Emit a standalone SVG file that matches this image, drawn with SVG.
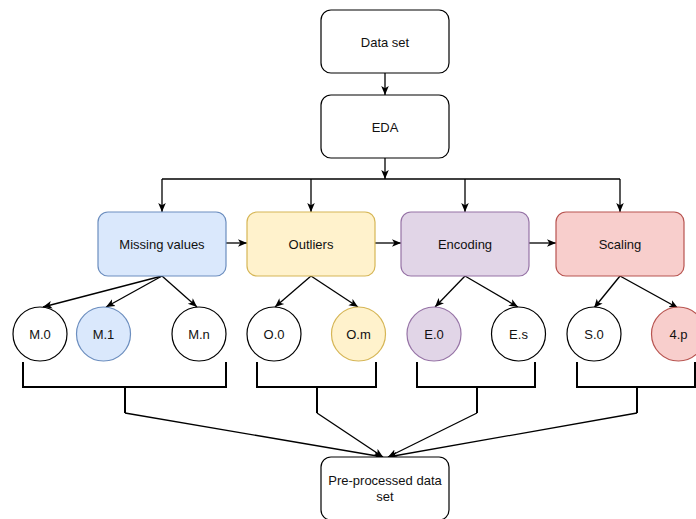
<svg xmlns="http://www.w3.org/2000/svg" width="696" height="519" viewBox="0 0 696 519">
  <defs>
    <marker id="arrow" markerUnits="userSpaceOnUse" markerWidth="9" markerHeight="9" viewBox="0 0 10 10" refX="10" refY="5" orient="auto">
      <path d="M0,0.8 L10,5 L0,9.2 L2.6,5 z" fill="#000"/>
    </marker>
    <style>
      .box { fill: #fff; stroke: #000; stroke-width: 1.2; }
      .blue { fill: #dae8fc; stroke: #6c8ebf; stroke-width: 1.2; }
      .yellow { fill: #fff2cc; stroke: #d6b656; stroke-width: 1.2; }
      .purple { fill: #e1d5e7; stroke: #9673a6; stroke-width: 1.2; }
      .red { fill: #f8cecc; stroke: #b85450; stroke-width: 1.2; }
      .lbl { font-family: "Liberation Sans", Arial, sans-serif; font-size: 13px; fill: #111; text-anchor: middle; dominant-baseline: central; }
      .edge { fill: none; stroke: #000; stroke-width: 1.3; marker-end: url(#arrow); }
      .bracket { fill: none; stroke: #000; stroke-width: 2; }
    </style>
  </defs>

  <!-- connectors -->
  <g id="connectors">
    <path class="edge" d="M385,73 V95"/>
    <path class="edge" d="M385,158 V179"/>
    <path fill="none" stroke="#000" stroke-width="1.3" d="M162,179 H620"/>
    <path class="edge" d="M162,179 V212"/>
    <path class="edge" d="M311,179 V212"/>
    <path class="edge" d="M465,179 V212"/>
    <path class="edge" d="M620,179 V212"/>

    <path class="edge" d="M226,243 H247"/>
    <path class="edge" d="M375,243 H401"/>
    <path class="edge" d="M529,243 H556"/>

    <path class="edge" d="M162,276 L43,307"/>
    <path class="edge" d="M162,276 L106,307"/>
    <path class="edge" d="M162,276 L197,307"/>
    <path class="edge" d="M311,276 L275,307"/>
    <path class="edge" d="M311,276 L358,307"/>
    <path class="edge" d="M465,276 L435,307"/>
    <path class="edge" d="M465,276 L518,307"/>
    <path class="edge" d="M620,276 L594,308"/>
    <path class="edge" d="M620,276 L678,308"/>

    <path class="bracket" d="M23,362 V387 H226 V362 M125,387 V413"/>
    <path class="bracket" d="M257,362 V387 H376 V362 M317,387 V413"/>
    <path class="bracket" d="M417,362 V387 H535 V362 M477,387 V413"/>
    <path class="bracket" d="M577,362 V387 H695 V362 M637,387 V413"/>

    <path class="edge" d="M125,413 L383,457"/>
    <path class="edge" d="M317,413 L383,457"/>
    <path class="edge" d="M477,413 L388,457"/>
    <path class="edge" d="M637,413 L388,457"/>
  </g>

  <g id="dataset">
    <rect class="box" x="321" y="10" width="128" height="63" rx="10"/>
    <text class="lbl" x="385" y="42">Data set</text>
  </g>
  <g id="eda">
    <rect class="box" x="321" y="95" width="128" height="63" rx="10"/>
    <text class="lbl" x="385" y="127">EDA</text>
  </g>

  <g id="missing">
    <rect class="blue" x="98" y="212" width="128" height="64" rx="10"/>
    <text class="lbl" x="162" y="244">Missing values</text>
  </g>
  <g id="outliers">
    <rect class="yellow" x="247" y="212" width="128" height="64" rx="10"/>
    <text class="lbl" x="311" y="244">Outliers</text>
  </g>
  <g id="encoding">
    <rect class="purple" x="401" y="212" width="128" height="64" rx="10"/>
    <text class="lbl" x="465" y="244">Encoding</text>
  </g>
  <g id="scaling">
    <rect class="red" x="556" y="212" width="128" height="64" rx="10"/>
    <text class="lbl" x="620" y="244">Scaling</text>
  </g>

  <g id="m0">
    <circle class="box" cx="40" cy="334" r="27"/>
    <text class="lbl" x="40" y="334">M.0</text>
  </g>
  <g id="m1">
    <circle class="blue" cx="103.5" cy="334" r="27"/>
    <text class="lbl" x="103.5" y="334">M.1</text>
  </g>
  <g id="mn">
    <circle class="box" cx="199" cy="334" r="27"/>
    <text class="lbl" x="199" y="334">M.n</text>
  </g>
  <g id="o0">
    <circle class="box" cx="274" cy="334" r="27"/>
    <text class="lbl" x="274" y="334">O.0</text>
  </g>
  <g id="om">
    <circle class="yellow" cx="358.5" cy="334" r="27"/>
    <text class="lbl" x="358.5" y="334">O.m</text>
  </g>
  <g id="e0">
    <circle class="purple" cx="434" cy="334" r="27"/>
    <text class="lbl" x="434" y="334">E.0</text>
  </g>
  <g id="es">
    <circle class="box" cx="518.5" cy="334" r="27"/>
    <text class="lbl" x="518.5" y="334">E.s</text>
  </g>
  <g id="s0">
    <circle class="box" cx="594" cy="334" r="27"/>
    <text class="lbl" x="594" y="334">S.0</text>
  </g>
  <g id="p4">
    <circle class="red" cx="678.5" cy="334" r="27"/>
    <text class="lbl" x="678.5" y="334">4.p</text>
  </g>

  <g id="preprocessed">
    <rect class="box" x="321" y="457" width="128" height="63" rx="10"/>
    <text class="lbl" x="385" y="480">Pre-processed data</text>
    <text class="lbl" x="385" y="496">set</text>
  </g>
</svg>
